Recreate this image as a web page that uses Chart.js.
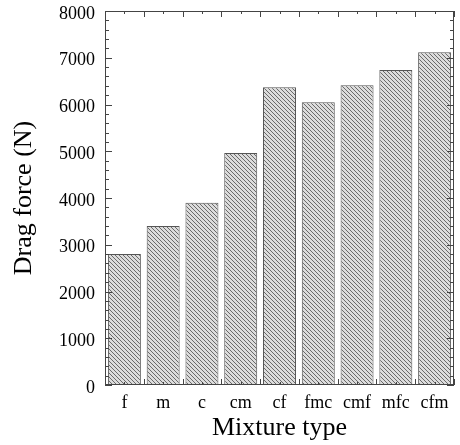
<!DOCTYPE html>
<html>
<head>
<meta charset="utf-8">
<script src="https://cdn.jsdelivr.net/npm/chart.js@4"></script>
<style>
html, body { margin: 0; padding: 0; background: #fff; }
</style>
</head>
<body>
<canvas id="dragChart" width="460" height="445"></canvas>
<script>
'use strict';

const mixtures = ['f', 'm', 'c', 'cm', 'cf', 'fmc', 'cmf', 'mfc', 'cfm'];
const dragForce = [2800, 3400, 3900, 4960, 6370, 6050, 6410, 6740, 7120];
const yMin = 0;
const yMax = 8000;
const yStep = 1000;
const yMinorStep = 200;

// diagonal hatch, like the scanned figure
function makeHatch() {
    const tile = document.createElement('canvas');
    tile.width = 4;
    tile.height = 4;
    const t = tile.getContext('2d');
    t.fillStyle = '#dcdcdc';
    t.fillRect(0, 0, 4, 4);
    t.fillStyle = '#6a6a6a';
    for (let i = 0; i < 4; i++) {
        t.fillRect(i, i, 1, 1);
    }
    return t.createPattern(tile, 'repeat');
}

const serif = 'Liberation Serif';

const frameTicks = {
    'id': 'frameTicks',
    afterDatasetsDraw(chart) {
        const {ctx, chartArea: a, scales: {x, y}} = chart;
        ctx.save();
        ctx.strokeStyle = '#444';
        ctx.lineWidth = 1;
        ctx.strokeRect(a.left + 0.5, a.top + 0.5, a.width - 1, a.height - 1);
        ctx.beginPath();
        for (let v = yMin; v <= yMax; v += yMinorStep) {
            const py = Math.round(y.getPixelForValue(v)) + 0.5;
            const len = v % yStep === 0 ? 7 : 4;
            ctx.moveTo(a.left, py);
            ctx.lineTo(a.left + len, py);
            ctx.moveTo(a.right, py);
            ctx.lineTo(a.right - len, py);
        }
        for (let i = 0; i <= mixtures.length; i++) {
            const edge = Math.round(x.getPixelForValue(i - 0.5)) + 0.5;
            ctx.moveTo(edge, a.top);
            ctx.lineTo(edge, a.top + 6);
            ctx.moveTo(edge, a.bottom);
            ctx.lineTo(edge, a.bottom - 6);
            if (i < mixtures.length) {
                const mid = Math.round(x.getPixelForValue(i)) + 0.5;
                ctx.moveTo(mid, a.top);
                ctx.lineTo(mid, a.top + 3);
                ctx.moveTo(mid, a.bottom);
                ctx.lineTo(mid, a.bottom - 3);
            }
        }
        ctx.stroke();
        ctx.restore();
    }
};

const ctx = document.getElementById('dragChart').getContext('2d');
const chart = new Chart(ctx, {
    'type': 'bar',
    'data': {
        'labels': mixtures,
        'datasets': [
            {
                'label': 'Drag force',
                'data': dragForce,
                'backgroundColor': makeHatch(),
                'borderColor': '#555',
                'borderWidth': 1,
                'barPercentage': 0.85,
                'categoryPercentage': 1
            }
        ]
    },
    'options': {
        'responsive': false,
        'animation': false,
        'layout': {
            'padding': {'top': 11, 'right': 6, 'bottom': 0, 'left': 0}
        },
        'plugins': {
            'legend': {'display': false},
            'tooltip': {'enabled': false}
        },
        'scales': {
            'x': {
                'grid': {'display': false, 'drawTicks': false},
                'border': {'display': false},
                'ticks': {
                    'color': '#000',
                    'padding': 7,
                    'font': {'family': serif, 'size': 18}
                },
                'title': {
                    'display': true,
                    'text': 'Mixture type',
                    'color': '#000',
                    'padding': {'top': 0, 'bottom': 1},
                    'font': {'family': serif, 'size': 26, 'lineHeight': 1.2}
                },
                afterFit(scale) {
                    scale.height = 60;
                    scale.paddingLeft = 0;
                    scale.paddingRight = 0;
                }
            },
            'y': {
                'min': yMin,
                'max': yMax,
                'grid': {'display': false, 'drawTicks': false},
                'border': {'display': false},
                'ticks': {
                    'stepSize': yStep,
                    'color': '#000',
                    'padding': 10,
                    'labelOffset': 3,
                    'font': {'family': serif, 'size': 18},
                    callback(value) {
                        return String(value);
                    }
                },
                'title': {
                    'display': true,
                    'text': 'Drag force (N)',
                    'color': '#000',
                    'padding': {'top': 9, 'bottom': 0},
                    'font': {'family': serif, 'size': 26, 'lineHeight': 1.2}
                },
                afterFit(scale) {
                    scale.width = 105;
                    scale.paddingTop = 0;
                    scale.paddingBottom = 0;
                }
            }
        }
    },
    'plugins': [frameTicks]
});
</script>
</body>
</html>
